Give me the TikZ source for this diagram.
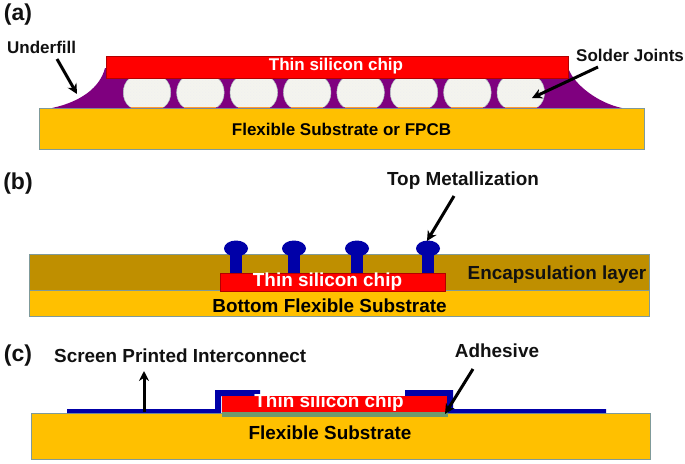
\documentclass[tikz,border=0pt]{standalone}
\usepackage{fontspec}
\setmainfont{Liberation Sans}
\usetikzlibrary{arrows.meta,patterns}
\definecolor{subst}{HTML}{FFC000}
\definecolor{edgec}{HTML}{7F9A9A}
\definecolor{chipred}{HTML}{FF0000}
\definecolor{fillpurple}{HTML}{7F007F}
\definecolor{encaps}{HTML}{BF8F00}
\definecolor{metal}{HTML}{0000A8}
\definecolor{adhes}{HTML}{6F9A6F}
\definecolor{txt}{HTML}{111111}
\definecolor{ballc}{HTML}{F4F4EE}
\tikzset{
  box/.style={draw=#1,line width=0.8pt,inner sep=0pt,outer sep=0pt,anchor=center},
  box/.default=edgec,
  substbox/.style={box,fill=subst},
  chipbox/.style={box=chipred!70!black,fill=chipred},
  big/.style={font=\bfseries\fontsize{18.9}{18.9}\selectfont},
  small/.style={font=\bfseries\fontsize{17}{17}\selectfont},
  lab/.style={text=txt,small,inner sep=0pt},
  biglab/.style={text=txt,big,inner sep=0pt},
  chiplab/.style={text=white,inner sep=0pt},
  panel/.style={text=txt,font=\bfseries\fontsize{23}{23}\selectfont,inner sep=0pt},
  pointer/.style={-{Stealth[length=10pt,width=10pt]},line width=3pt,black},
  metalfill/.style={fill=metal,draw=none},
  ball/.pic={
    \path[fill=ballc] (-17,-14.5) -- (17,-14.5) .. controls (26,-8) and (26,8) .. (17,14.5) -- (-17,14.5) .. controls (-26,8) and (-26,-8) .. (-17,-14.5) -- cycle;
    \path[pattern=crosshatch dots,pattern color=gray!12] (-17,-14.5) -- (17,-14.5) .. controls (26,-8) and (26,8) .. (17,14.5) -- (-17,14.5) .. controls (-26,8) and (-26,-8) .. (-17,-14.5) -- cycle;
    \draw[edgec!60!white,line width=0.5pt] (-17,-14.5) .. controls (-26,-8) and (-26,8) .. (-17,14.5);
    \draw[edgec!60!white,line width=0.5pt] (17,-14.5) .. controls (26,-8) and (26,8) .. (17,14.5);
    \draw[orange!80!white,line width=0.7pt] (-16,14.5) -- (16,14.5);
  },
  bump/.pic={
    \fill[metal] (-6,0) rectangle (6,32);
    \fill[metal] (0,0) ellipse [x radius=12, y radius=8];
  }
}
\begin{document}
\begin{tikzpicture}[x=1pt,y=-1pt]
\useasboundingbox (0,0) rectangle (685,463);
% panel (a)
\node[panel] (pa) at (18,15) {(a)};
\node[substbox,minimum width=605pt,minimum height=41pt] (suba) at (341.5,128.5) {};
\node[lab,text=black] (subal) at (341.5,129) {Flexible Substrate or FPCB};
\fill[fillpurple] (52,108) .. controls (80,102) and (100,88) .. (105,68) -- (569,70)
  .. controls (575,85) and (598,103) .. (622,108) -- cycle;
\foreach \i in {0,...,7}{
  \pic at ({147+53.4*\i},92.5) {ball};
}
\node[chipbox,minimum width=462pt,minimum height=22pt] (chipa) at (337,67) {};
\node[chiplab,small] (chipal) at (336,66.5) {Thin silicon chip};
\node[lab,anchor=west] (ufl) at (7,47) {Underfill};
\node[lab,anchor=west] (sjl) at (576,55) {Solder Joints};
\coordinate (ufs) at (57,59);
\coordinate (uft) at (77,94);
\coordinate (sjs) at (598,67);
\coordinate (sjt) at (532,98);
\draw[pointer] (ufs) -- (uft);
\draw[pointer] (sjs) -- (sjt);
% panel (b)
\node[panel] (pb) at (18,184) {(b)};
\node[box,fill=encaps,minimum width=620pt,minimum height=36pt] (enc) at (339,272) {};
\node[substbox,minimum width=620pt,minimum height=26pt] (subb) at (339,303) {};
\node[biglab,text=black] (subbl) at (329.5,306) {Bottom Flexible Substrate};
\foreach \x in {236,294,357,428}{
  \pic at (\x,248.5) {bump};
}
\node[chipbox,minimum width=225pt,minimum height=18pt] (chipb) at (332.5,282) {};
\node[chiplab,big] (chipbl) at (327.5,282) {Thin silicon chip};
\node[biglab] (encl) at (557,275) {Encapsulation layer};
\node[biglab] (tml) at (463,181) {Top Metallization};
\coordinate (tms) at (454,196);
\coordinate (tmt) at (427,241);
\draw[pointer] (tms) -- (tmt);
% panel (c)
\node[panel] (pc) at (18,356) {(c)};
\node[substbox,minimum width=619pt,minimum height=46pt] (subc) at (340.5,436) {};
\node[biglab,text=black] (subcl) at (330,433) {Flexible Substrate};
\path[metalfill] (67,409) -- (215,409) -- (215,390) -- (260,390) -- (260,396) -- (221,396) -- (221,413) -- (67,413) -- cycle;
\path[metalfill] (405,390) -- (453,390) -- (453,409) -- (606,409) -- (606,413) -- (447,413) -- (447,396) -- (405,396) -- cycle;
\node[box=adhes,fill=adhes,minimum width=225pt,minimum height=4pt] (adh) at (334.5,414) {};
\node[chipbox,draw=none,minimum width=225pt,minimum height=16pt] (chipc) at (334.5,404) {};
\node[chiplab,big] (chipcl) at (329,403) {Thin silicon chip};
\node[biglab,anchor=west] (spl) at (54,356) {Screen Printed Interconnect};
\node[biglab] (adl) at (497,351) {Adhesive};
\coordinate (sps) at (144,412);
\coordinate (spt) at (144,371);
\coordinate (ads) at (473,369);
\coordinate (adt) at (445,414);
\draw[pointer] (sps) -- (spt);
\draw[pointer] (ads) -- (adt);
\end{tikzpicture}
\end{document}
